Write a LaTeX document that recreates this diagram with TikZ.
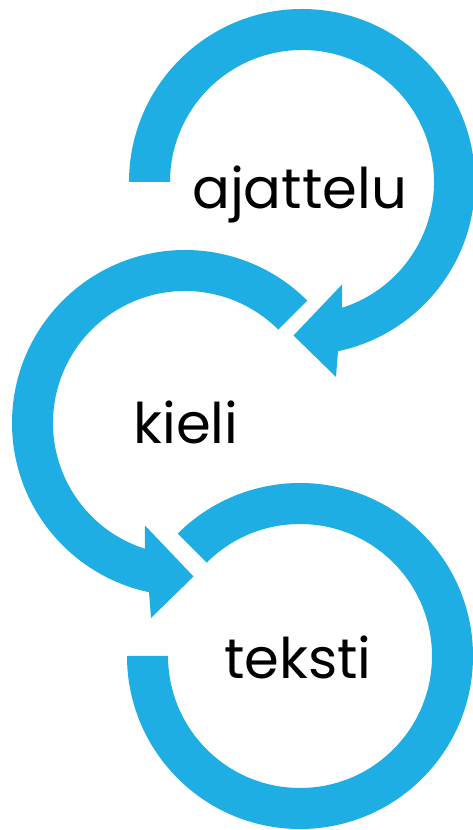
\documentclass[tikz,border=0pt]{standalone}
\usepackage{fontspec}
\setmainfont{Poppins}
\usetikzlibrary{calc}
\definecolor{ringblue}{RGB}{31,174,227}
\begin{document}
\begin{tikzpicture}[x=1pt,y=1pt,
  ring/.style={fill=ringblue, draw=none},
  wordtext/.style={font=\fontsize{56}{60}\selectfont, anchor=base, inner sep=0pt, text=black}]
\useasboundingbox (0,0) rectangle (472,830);
\coordinate (C1) at (302,648);
\coordinate (C2) at (185,407);
\coordinate (C3) at (300,174);
% top ring with arrow
\fill[ring] ($(C1)+(180:173)$) arc[start angle=180,end angle=-78,radius=173pt]
  -- ($(C1)+(34,-195)$) -- ($(C1)+(-8.5,-153.5)$) -- ($(C1)+(40,-102.5)$)
  -- ($(C1)+(-72.3:132)$) arc[start angle=-72.3,end angle=180,radius=132pt] -- cycle;
% middle ring with arrow
\fill[ring] ($(C2)+(45:173)$) arc[start angle=45,end angle=258,radius=173pt]
  -- ($(C2)+(-34,-195)$) -- ($(C2)+(8.5,-153.5)$) -- ($(C2)+(-40,-102.5)$)
  -- ($(C2)+(252.3:132)$) arc[start angle=252.3,end angle=45,radius=132pt] -- cycle;
% bottom ring
\fill[ring] ($(C3)+(180:173)$) arc[start angle=180,end angle=495,radius=173pt]
  -- ($(C3)+(135:132)$) arc[start angle=135,end angle=-180,radius=132pt] -- cycle;
\node[wordtext] (ajattelu) at (299.5,621) {ajattelu};
\node[wordtext] (kieli) at (186,386) {kieli};
\node[wordtext] (teksti) at (298,151) {teksti};
\end{tikzpicture}
\end{document}
